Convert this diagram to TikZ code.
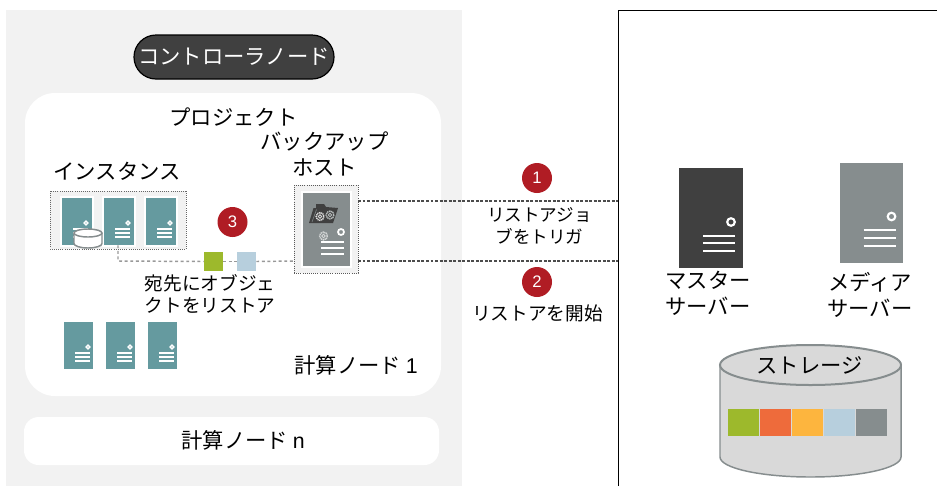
\documentclass[tikz,border=0pt]{standalone}
\usepackage{fontspec}
\setmainfont{Noto Sans CJK JP}
\newfontfamily\latfont{Liberation Sans}
\definecolor{panelgray}{HTML}{F2F2F2}
\definecolor{darkpill}{HTML}{404040}
\definecolor{tealsrv}{HTML}{659A9F}
\definecolor{graysrv}{HTML}{868D8E}
\definecolor{darksrv}{HTML}{404040}
\definecolor{redbadge}{HTML}{B01C24}
\definecolor{cgreen}{HTML}{9DB92C}
\definecolor{corange}{HTML}{EE6B3B}
\definecolor{cyellow}{HTML}{FDB53E}
\definecolor{cblue}{HTML}{B7CFDD}
\definecolor{cylfill}{HTML}{D9D9D9}
\tikzset{
  px/.style={x=0.75pt,y=-0.75pt},
  bigtext/.style={font=\fontsize{16}{19.5}\selectfont,align=center,text=black,inner sep=0pt},
  smalltext/.style={font=\fontsize{14}{16.5}\selectfont,align=center,text=black,inner sep=0pt},
  jobtext/.style={font=\fontsize{13.2}{16.5}\selectfont,align=center,text=black,inner sep=0pt},
  badge/.style={circle,fill=redbadge,text=white,minimum size=22.5pt,inner sep=0pt,font=\fontsize{12.5}{13}\latfont},
  hostbox/.style={draw=black!65,densely dotted,line width=0.6pt,fill=panelgray},
  darkconn/.style={draw=black!70,line width=1pt,dash pattern=on 2.2pt off 1.2pt},
  lightconn/.style={draw=black!40,line width=1.1pt,dash pattern=on 2.2pt off 2pt},
}
\newcommand{\srvbody}[6]{%
  \fill[#6] (#1-2,#2-2) rectangle ++(#3+4,#4+4);
  \fill[#5] (#1,#2) rectangle ++(#3,#4);
}
\newcommand{\smallmarks}[2]{%
  \draw[white,line width=1pt] (#1+24,#2+25) circle (1.9);
  \draw[white,line width=0.9pt] (#1+11,#2+31) -- ++(15,0) (#1+11,#2+35) -- ++(15,0) (#1+11,#2+39) -- ++(15,0);
}
\newcommand{\bigmarks}[2]{%
  \draw[white,line width=1.6pt] (#1+52,#2+54) circle (3.8);
  \draw[white,line width=1.5pt] (#1+24,#2+67.5) -- ++(32,0) (#1+24,#2+75) -- ++(32,0) (#1+24,#2+83) -- ++(32,0);
}
\newcommand{\gearicon}[3]{%
  \draw[#3,line width=1.1pt,dash pattern=on 0.9pt off 0.5pt] (#1,#2) circle (3.9);
  \draw[#3,line width=0.7pt] (#1,#2) circle (1.8);
}
\begin{document}
\begin{tikzpicture}[px]
\useasboundingbox (0,0) rectangle (937,486);
\fill[white] (0,0) rectangle (937,486);
% panels
\fill[panelgray] (6,10) rectangle (462,486);
\fill[white,rounded corners=22.5pt] (25,93) rectangle (441,396);
\fill[white,rounded corners=11pt] (24,417) rectangle (439,465);
\draw[black,line width=0.75pt] (618,486) -- (618,10) -- (937,10);
% controller
\node[draw=black,line width=0.9pt,fill=darkpill,rounded corners=16.5pt,minimum width=150pt,minimum height=33pt,inner sep=0pt,text=white,font=\fontsize{16}{19}\selectfont] (ctrl) at (234,57) {コントローラノード};
% texts
\node[bigtext] (proj) at (233.5,117) {プロジェクト};
\node[bigtext] (bktitle) at (324.5,154) {バックアップ\\ホスト};
\node[bigtext] (insttitle) at (117,171) {インスタンス};
\node[bigtext] (cn1) at (356,365) {計算ノード {\latfont 1}};
\node[bigtext] (cnn) at (243,440) {計算ノード {\latfont n}};
\node[bigtext] (master) at (708,293.5) {マスター\\サーバー};
\node[bigtext] (media) at (870,295) {メディア\\サーバー};
\node[jobtext] (job) at (539.5,225.5) {リストアジョ\\ブをトリガ};
\node[smalltext] (start) at (537.5,313) {リストアを開始};
\node[smalltext] (dest) at (210,294) {宛先にオブジェ\\クトをリストア};
% instance group
\fill[panelgray] (50,191) rectangle (186,249);
\draw[black!60,densely dotted,line width=0.6pt] (50,191) rectangle (186,249);
\foreach \xx in {62,104,146}{
  \srvbody{\xx}{198}{29.5}{47}{tealsrv}{white}
  \smallmarks{\xx}{198}
}
% connector to second instance server, green and blue objects
\node[inner sep=0pt,minimum size=0pt] (instsrv) at (118,245) {};
\node[fill=cgreen,minimum size=14.25pt,inner sep=0pt] (objgreen) at (213.5,261.5) {};
\node[fill=cblue,minimum size=14.25pt,inner sep=0pt] (objblue) at (246.5,261.5) {};
% backup host box
\node[hostbox,minimum width=48pt,minimum height=66pt,inner sep=0pt] (host) at (326,229) {};
\coordinate (hosta) at (358,201);
\coordinate (hostb) at (358,261);
\coordinate (hostc) at (294,261);
\coordinate (rightA) at (618,201);
\coordinate (rightB) at (618,261);
\coordinate (bend) at (118,261);
\draw[lightconn] (instsrv.south) -- (bend) -- (objgreen.west);
\draw[lightconn] (objgreen.east) -- (objblue.west);
\draw[lightconn] (objblue.east) -- (hostc);
\draw[darkconn] (hosta) -- (rightA);
\draw[darkconn] (hostb) -- (rightB);
% host server
\srvbody{303}{193}{47}{73}{graysrv}{white}
\fill[darksrv] (309,223) -- (313.5,208) -- (316,208) -- (316,204) -- (324,204) -- (326,207) -- (338,208) -- (333,223) -- cycle;
\draw[graysrv,line width=0.4pt] (312,222) -- (316.5,209.5);
\gearicon{320}{216.5}{white!85!black}
\gearicon{330}{215}{graysrv!60!white}
\draw[white,line width=1.3pt] (341,232) circle (3);
\gearicon{323.5}{236}{white!65!graysrv}
\draw[white,line width=1.1pt] (321,242) -- (344,242) (321,248) -- (344,248) (321,254) -- (344,254);
% small cylinder
\draw[graysrv,line width=1.1pt,fill=white] (74,233) -- (74,243.5) arc[start angle=180,end angle=0,x radius=14,y radius=4.5] -- (102,233);
\draw[graysrv,line width=1.1pt,fill=white] (88,233) ellipse [x radius=14,y radius=4];
% bottom servers
\foreach \xx in {64,106,148}{
  \fill[tealsrv] (\xx,322) rectangle ++(28.5,46.5);
  \smallmarks{\xx}{322}
}
% big servers
\fill[darksrv] (679,168) rectangle (742.5,268);
\bigmarks{679}{168}
\fill[graysrv] (839.5,162.5) rectangle (903,262.5);
\bigmarks{839.5}{162.5}
% storage
\draw[graysrv,line width=1.1pt,fill=cylfill] (720,365) -- (720,457) arc[start angle=180,end angle=0,x radius=90.5,y radius=20] -- (901,365);
\draw[graysrv,line width=1.5pt,fill=cylfill] (810.5,365) ellipse [x radius=90.5,y radius=20];
\fill[cgreen] (728,409) rectangle (759,436);
\fill[corange] (760,409) rectangle (791,436);
\fill[cyellow] (792,409) rectangle (823,436);
\fill[cblue] (824,409) rectangle (855,436);
\fill[graysrv] (856,409) rectangle (887,436);
\node[bigtext] (stor) at (809.5,365) {ストレージ};
% badges
\node[badge] (b1) at (537,178) {1};
\node[badge] (b2) at (537,282) {2};
\node[badge] (b3) at (232.5,222) {3};
\end{tikzpicture}
\end{document}
